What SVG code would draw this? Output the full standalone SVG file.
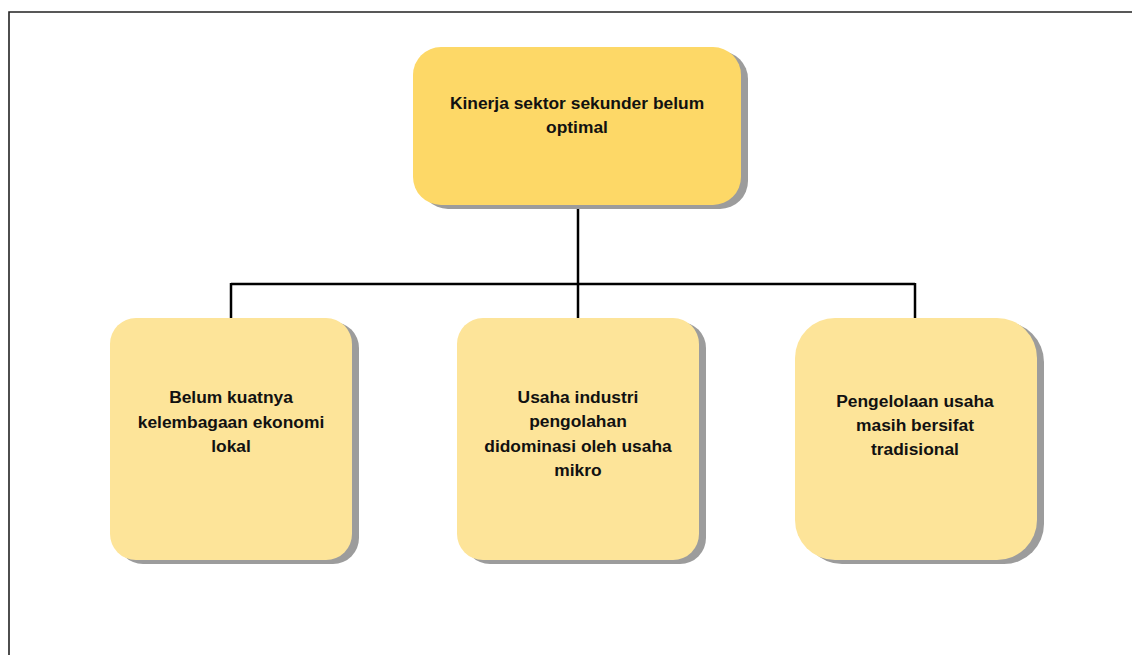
<svg xmlns="http://www.w3.org/2000/svg" width="1132" height="655" viewBox="0 0 1132 655">
<style>
.shadow{fill:#9c9c9c}
.top{fill:#FDD867}
.child{fill:#FDE499}
.lbl{font-family:"Liberation Sans",Arial,sans-serif;font-weight:bold;font-size:17.4px;fill:#111;text-anchor:middle}
.conn{stroke:#000;stroke-width:2.5;fill:none}
</style>
<rect width="1132" height="655" fill="#fff"/>
<path d="M9 655 V12 H1132" fill="none" stroke="#222" stroke-width="1.6"/>
<g id="connectors">
<path class="conn" d="M578 205 V284"/>
<path class="conn" d="M231 284 H915"/>
<path class="conn" d="M231 283 V318"/>
<path class="conn" d="M578 284 V318"/>
<path class="conn" d="M915 283 V318"/>
</g>
<g id="node-top">
<rect class="shadow" x="420" y="51" width="328" height="158" rx="28"/>
<rect class="top" x="413" y="47" width="328" height="158" rx="28"/>
<text class="lbl" x="577" y="109">Kinerja sektor sekunder belum</text>
<text class="lbl" x="577" y="133">optimal</text>
</g>
<g id="node-1">
<rect class="shadow" x="117" y="322" width="242" height="242" rx="26"/>
<rect class="child" x="110" y="318" width="242" height="242" rx="26"/>
<text class="lbl" x="231" y="403">Belum kuatnya</text>
<text class="lbl" x="231" y="427.5">kelembagaan ekonomi</text>
<text class="lbl" x="231" y="452">lokal</text>
</g>
<g id="node-2">
<rect class="shadow" x="464" y="322" width="242" height="242" rx="26"/>
<rect class="child" x="457" y="318" width="242" height="242" rx="26"/>
<text class="lbl" x="578" y="403">Usaha industri</text>
<text class="lbl" x="578" y="427.3">pengolahan</text>
<text class="lbl" x="578" y="451.6">didominasi oleh usaha</text>
<text class="lbl" x="578" y="476">mikro</text>
</g>
<g id="node-3">
<rect class="shadow" x="802" y="322" width="242" height="242" rx="40"/>
<rect class="child" x="795" y="318" width="242" height="242" rx="40"/>
<text class="lbl" x="915" y="407">Pengelolaan usaha</text>
<text class="lbl" x="915" y="431">masih bersifat</text>
<text class="lbl" x="915" y="455">tradisional</text>
</g>
</svg>
